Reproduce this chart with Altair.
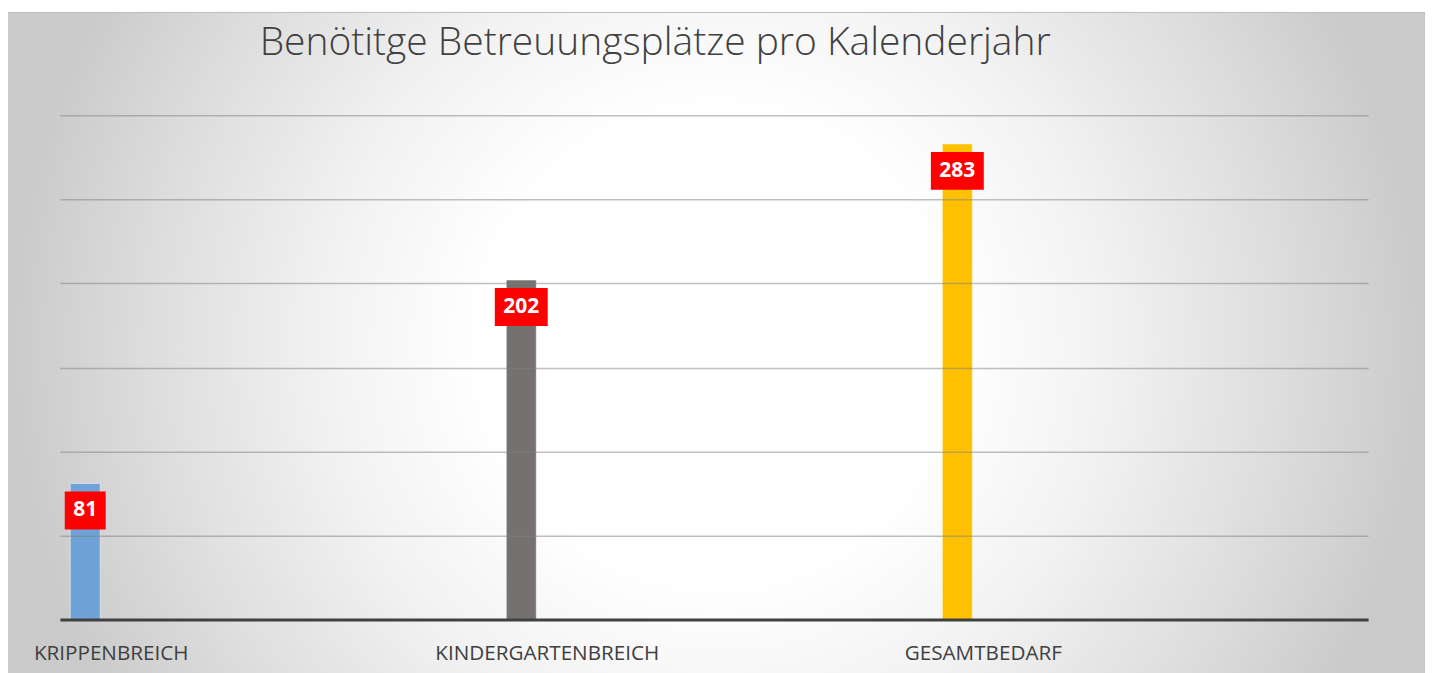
import altair as alt
import pandas as pd

categories = ["KRIPPENBREICH", "KINDERGARTENBREICH", "GESAMTBEDARF"]
values = [81, 202, 283]
bar_colors = ["#6FA3D7", "#767171", "#FFC000"]
grid_values = [50, 100, 150, 200, 250, 300]
title_text = "Benötitge Betreuungsplätze pro Kalenderjahr"

df = pd.DataFrame({"cat": categories, "value": values, "color": bar_colors})

W, H = 1310, 505
OFF = -193

x_enc = alt.X(
    "cat:N",
    sort=categories,
    scale=alt.Scale(paddingInner=0, paddingOuter=0),
    axis=alt.Axis(
        title=None, labels=False, ticks=False, domainColor="#404040",
        domainWidth=3, zindex=1,
    ),
)
y_enc = alt.Y(
    "value:Q",
    scale=alt.Scale(domain=[0, 300], nice=False),
    axis=alt.Axis(
        title=None, labels=False, ticks=False, domain=False, values=grid_values,
        gridColor="#808080", gridOpacity=0.5, gridWidth=1.5, zindex=1,
    ),
)

gradient = alt.RadialGradient(
    gradient="radial",
    stops=[
        alt.GradientStop(color="#ffffff", offset=0),
        alt.GradientStop(color="#ffffff", offset=0.33),
        alt.GradientStop(color="#f2f2f2", offset=0.55),
        alt.GradientStop(color="#dddddd", offset=0.8),
        alt.GradientStop(color="#cacaca", offset=1),
    ],
    x1=0.5, y1=0.5, r1=0, x2=0.5, y2=0.5, r2=0.5,
)

bg = alt.Chart(alt.Data(values=[{}])).mark_rect(
    fill=gradient, stroke="#bdbdbd", strokeWidth=1
).encode(
    x=alt.value(-53), x2=alt.value(W + 57), y=alt.value(-103), y2=alt.value(H + 60)
)

base = alt.Chart(df)

bars = base.mark_bar(
    size=30, xOffset=OFF, x2Offset=OFF, stroke="white", strokeOpacity=0.5, strokeWidth=1
).encode(x=x_enc, y=y_enc, color=alt.Color("color:N", scale=None))

boxes = base.transform_calculate(
    boxw="length(toString(datum.value)) * 12 + 17"
).mark_bar(
    color="#FF0000", xOffset=OFF, x2Offset=OFF, yOffset=8, y2Offset=46
).encode(
    x=alt.X("cat:N", sort=categories),
    y=alt.Y("value:Q"),
    y2=alt.Y2("value:Q"),
    size=alt.Size("boxw:Q", scale=None),
)

labels = base.mark_text(
    color="white", font="Open Sans", fontSize=21, fontWeight="bold",
    dx=OFF, dy=27, baseline="middle", align="center",
).encode(x=alt.X("cat:N", sort=categories), y=alt.Y("value:Q"), text="value:Q")

cat_labels = base.mark_text(
    color="#404040", font="Open Sans", fontSize=20.7, dx=-167, dy=40,
    baseline="alphabetic", align="center",
).encode(x=alt.X("cat:N", sort=categories), y=alt.datum(0), text="cat:N")

chart = alt.layer(bg, bars, boxes, labels, cat_labels).properties(
    width=W,
    height=H,
    padding={"left": 52, "top": 107, "right": 57, "bottom": 58},
    autosize=alt.AutoSizeParams(type="none"),
    title=alt.TitleParams(
        text=title_text, anchor="start", frame="group", dx=200, offset=-82,
        baseline="alphabetic", font="Open Sans", fontSize=39, fontWeight=300,
        color="#404040",
    ),
).configure_view(stroke=None).configure(background="white")

chart.save("out.html", embed_options={"renderer": "svg", "actions": False})
